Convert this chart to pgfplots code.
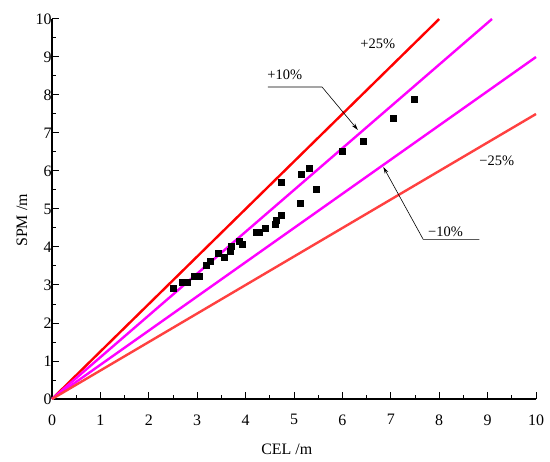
\documentclass[border=0pt]{standalone}
\usepackage{fontspec}
\setmainfont{Liberation Serif}
\usepackage{pgfplots}
\pgfplotsset{compat=1.18}
\usetikzlibrary{arrows.meta}
\definecolor{redA}{RGB}{255,0,0}
\definecolor{redB}{RGB}{255,64,64}
\definecolor{mag}{RGB}{255,0,255}
\begin{document}
\begin{tikzpicture}
\begin{axis}[name=ax, scale only axis, width=484bp, height=380bp,
  xmin=0, xmax=10, ymin=0, ymax=10,
  axis lines=left, axis line style={-, line width=1.2bp},
  xtick={0,...,10}, ytick={0,...,10}, minor tick num=1,
  tick align=inside, major tick length=7.5bp, minor tick length=4bp,
  tick style={black, line width=1bp},
  /pgf/number format/assume math mode=true,
  tick label style={font=\fontsize{16}{18}\selectfont},
  xticklabel style={yshift=-12bp},
  yticklabel style={xshift=3bp},
  xlabel={CEL /m}, ylabel={SPM /m},
  label style={font=\fontsize{16}{18}\selectfont},
  xlabel style={at={(axis description cs:0.485,0)}, anchor=center, yshift=-50bp},
  ylabel style={at={(axis description cs:0,0.47)}, anchor=center, yshift=30bp},
  clip=false]
\addplot[redA, line width=2.4bp] coordinates {(0,0) (8,10)};
\addplot[mag, line width=2.4bp] coordinates {(0,0) (9.0909,10)};
\addplot[mag, line width=2.4bp] coordinates {(0,0) (10,9)};
\addplot[redB, line width=2.4bp] coordinates {(0,0) (10,7.5)};
\addplot[only marks, mark=square*, mark size=3bp, black] coordinates {
(2.51,2.91) (2.70,3.07) (2.79,3.08) (2.94,3.22) (3.04,3.24)
(3.18,3.51) (3.26,3.63) (3.44,3.85) (3.56,3.74) (3.69,3.88)
(3.71,4.03) (3.87,4.14) (3.94,4.07) (4.21,4.40) (4.28,4.39)
(4.40,4.49) (4.61,4.61) (4.64,4.71) (4.73,4.84) (4.73,5.70)
(5.12,5.15) (5.14,5.92) (5.32,6.07) (5.46,5.53) (5.99,6.53)
(6.42,6.79) (7.05,7.39) (7.49,7.90)};
\node[font=\fontsize{14.5}{16}\selectfont] at (axis cs:6.73,9.34) {+25\%};
\node[font=\fontsize{14.5}{16}\selectfont] at (axis cs:4.81,8.53) {+10\%};
\draw[-{Stealth[length=7bp,width=4bp]}, line width=0.6bp] (axis cs:4.46,8.21) -- (axis cs:5.58,8.21) -- (axis cs:6.32,7.08);
\node[font=\fontsize{14.5}{16}\selectfont] at (axis cs:8.13,4.40) {−10\%};
\draw[-{Stealth[length=7bp,width=4bp]}, line width=0.6bp] (axis cs:8.83,4.20) -- (axis cs:7.67,4.20) -- (axis cs:6.845,6.11);
\node[font=\fontsize{14.5}{16}\selectfont] at (axis cs:9.19,6.27) {−25\%};
\end{axis}
\pgfresetboundingbox
\path (ax.south west) ++(-52bp,-63bp) rectangle ++(550bp,462bp);
\end{tikzpicture}
\end{document}
